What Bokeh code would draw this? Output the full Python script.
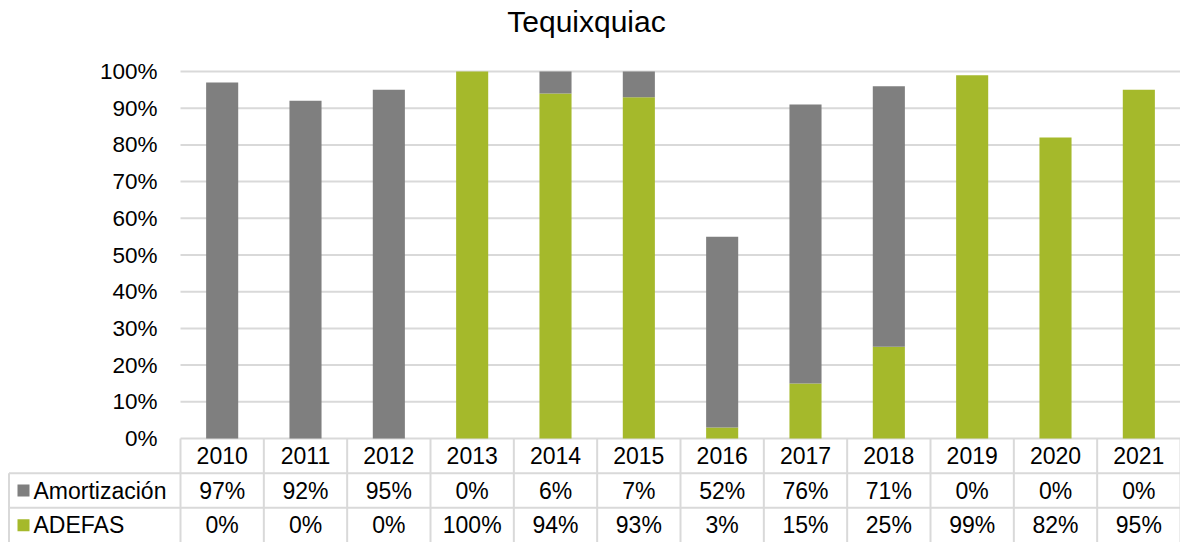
import numpy as np
from bokeh.plotting import figure
from bokeh.models import ColumnDataSource, Range1d
from bokeh.core.properties import value
from bokeh.embed import file_html
from bokeh.resources import INLINE

# ---- data ----
years = ["2010", "2011", "2012", "2013", "2014", "2015",
         "2016", "2017", "2018", "2019", "2020", "2021"]
amortizacion = [97, 92, 95, 0, 6, 7, 52, 76, 71, 0, 0, 0]
adefas = [0, 0, 0, 100, 94, 93, 3, 15, 25, 99, 82, 95]
series_names = ["Amortización", "ADEFAS"]
y_ticks = [0, 10, 20, 30, 40, 50, 60, 70, 80, 90, 100]
title_text = "Tequixquiac"

# ---- style / layout (canvas pixels) ----
FONT = "Liberation Sans"
GRAY = "#7f7f7f"
GREEN = "#a5b92b"
LINE = "#d9d9d9"
W, H = 1180, 542
N = len(years)
PLOT_LEFT = 180                 # left edge of category area
CAT_PX = (W - PLOT_LEFT) / N    # width of one category
PX_PER_UNIT = 367.0             # vertical pixels per 100 %
ZERO_PX = 438                   # canvas y of the 0 % line


def px_x(px):
    return (px - PLOT_LEFT) / CAT_PX


def px_y(py):
    return (ZERO_PX - py) / PX_PER_UNIT


X0, X1 = px_x(0), N
Y_BOTTOM, Y_TOP = px_y(H), px_y(0)
RH = -Y_BOTTOM / 3.0            # table row height (data units)

x = np.arange(N) + 0.5
src = ColumnDataSource(dict(
    x=x, year=years,
    adefas=np.array(adefas) / 100.0,
    amort=np.array(amortizacion) / 100.0,
    amort_lbl=[f"{v}%" for v in amortizacion],
    adefas_lbl=[f"{v}%" for v in adefas],
))
tick_src = ColumnDataSource(dict(
    y=[t / 100.0 for t in y_ticks],
    x0=[0] * len(y_ticks), x1=[N] * len(y_ticks),
    lbl=[f"{t}%" for t in y_ticks],
))

p = figure(width=W, height=H, x_range=Range1d(X0, X1), y_range=Range1d(Y_BOTTOM, Y_TOP),
           output_backend="svg", toolbar_location=None,
           x_axis_location=None, y_axis_location=None, min_border=0)
p.grid.visible = False
p.outline_line_color = None
p.background_fill_color = "white"
p.border_fill_color = "white"

# ---- gridlines & y tick labels ----
p.segment(x0="x0", y0="y", x1="x1", y1="y", source=tick_src, line_color=LINE, line_width=2)
p.text(x=0, y="y", text="lbl", source=tick_src, x_offset=-23,
       text_font=value(FONT), text_font_size="22.5px", text_color="black",
       text_align="right", text_baseline="middle")

# ---- title ----
p.text(x=[px_x(586)], y=[px_y(21)], text=[title_text], text_font=value(FONT),
       text_font_size="30px", text_color="black", text_align="center",
       text_baseline="middle")

# ---- bars ----
p.vbar_stack(["adefas", "amort"], x="x", width=0.385, color=[GREEN, GRAY],
             line_color=None, source=src)

# ---- data table below the chart ----
bounds = np.arange(N + 1)
p.segment(x0=bounds, y0=0, x1=bounds, y1=Y_BOTTOM - 0.05, line_color=LINE, line_width=2)
COL_LEFT = px_x(8.5)
p.segment(x0=[COL_LEFT, COL_LEFT], y0=[-RH, -2 * RH], x1=[N, N], y1=[-RH, -2 * RH],
          line_color=LINE, line_width=2)
p.segment(x0=[COL_LEFT], y0=[-RH], x1=[COL_LEFT], y1=[Y_BOTTOM - 0.05],
          line_color=LINE, line_width=2)

common = dict(text_font=value(FONT), text_font_size="23px", text_color="black",
              text_align="center", text_baseline="middle", source=src)
p.text(x="x", y=-0.5 * RH, text="year", **common)
p.text(x="x", y=-1.5 * RH, text="amort_lbl", **common)
p.text(x="x", y=-2.5 * RH, text="adefas_lbl", **common)

# legend keys + series names in the first column
p.scatter(x=[px_x(23), px_x(23)], y=[-1.5 * RH, -2.5 * RH], marker="square", size=12,
          color=[GRAY, GREEN], line_color=None)
p.text(x=[px_x(33), px_x(33)], y=[-1.5 * RH, -2.5 * RH], text=series_names,
       text_font=value(FONT), text_font_size="23px", text_color="black",
       text_align="left", text_baseline="middle")

open("out.html", "w").write(file_html(p, INLINE))
